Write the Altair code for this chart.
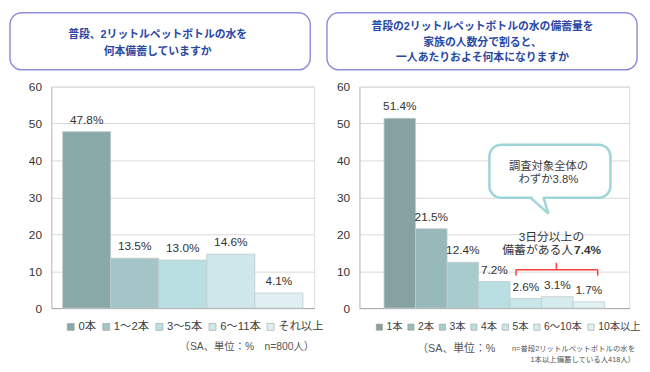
import altair as alt
import pandas as pd

FONT = "Liberation Sans, Noto Sans CJK JP, sans-serif"

# ---------------- data ----------------
y_ticks = [0, 10, 20, 30, 40, 50, 60]

left_title = ["普段、2リットルペットボトルの水を", "何本備蓄していますか"]
left_cats = ["0本", "1〜2本", "3〜5本", "6〜11本", "それ以上"]
left_vals = [47.8, 13.5, 13.0, 14.6, 4.1]
left_colors = ["#89A8A8", "#A3C5C7", "#B9DFE3", "#CFE7EA", "#E0F0F2"]
left_note = "（SA、単位：%　n=800人）"

right_title = ["普段の2リットルペットボトルの水の備蓄量を", "家族の人数分で割ると、", "一人あたりおよそ何本になりますか"]
right_cats = ["1本", "2本", "3本", "4本", "5本", "6〜10本", "10本以上"]
right_vals = [51.4, 21.5, 12.4, 7.2, 2.6, 3.1, 1.7]
right_colors = ["#86A1A1", "#97B9BA", "#A8CCCE", "#B9DFE3", "#C9E6E9", "#D5ECEE", "#E2F1F3"]
right_note_a = "（SA、単位：%"
right_note_b = ["n=普段2リットルペットボトルの水を", "1本以上備蓄している人418人）"]

bubble_text = ["調査対象全体の", "わずか3.8%"]
bracket_line1 = "3日分以上の"
bracket_line2 = "備蓄がある人"
bracket_value = "7.4%"

ONE = pd.DataFrame({"k": [0]})
H = 225


def bar_layers(cats, vals, colors, pad_outer, legend_x, legend_y, legend_fs, col_pad, sym_size):
    df = pd.DataFrame({"cat": cats, "val": vals})
    base = alt.Chart(df).transform_calculate(
        label="format(datum.val, '.1f') + '%'"
    ).encode(
        x=alt.X("cat:N", sort=cats,
                scale=alt.Scale(domain=cats, paddingInner=0, paddingOuter=pad_outer),
                axis=alt.Axis(title=None, labels=False, ticks=False, grid=False,
                              domainColor="#a6a6a6", domainWidth=1)),
        y=alt.Y("val:Q", scale=alt.Scale(domain=[0, 60]),
                axis=alt.Axis(title=None, values=y_ticks, ticks=False, labelPadding=10,
                              labelFontSize=12, labelColor="#333333", labelFont=FONT,
                              domainColor="#bfbfbf", gridColor="#d9d9d9")),
    )
    bars = base.mark_bar(stroke="#c3cbcb", strokeWidth=0.8).encode(
        color=alt.Color("cat:N", sort=cats,
                        scale=alt.Scale(domain=cats, range=colors),
                        legend=alt.Legend(orient="none", legendX=legend_x, legendY=legend_y,
                                          direction="horizontal", columns=len(cats),
                                          title=None, symbolType="square", symbolSize=sym_size,
                                          labelFontSize=legend_fs, labelFont=FONT,
                                          labelColor="#404040", labelOffset=2,
                                          columnPadding=col_pad, padding=0,
                                          symbolStrokeColor="#a0a0a0", symbolStrokeWidth=0.6))
    )
    labels = base.mark_text(baseline="middle", dy=-12, fontSize=12, font=FONT,
                            color="#333333").encode(text="label:N")
    return bars, labels


def title_box(lines, x1, x2, y1, y2, cx, cy, lh):
    box = alt.Chart(ONE).mark_rect(fill="white", stroke="#9090D8", strokeWidth=1.5,
                                   cornerRadius=12).encode(
        x=alt.value(x1), x2=alt.value(x2), y=alt.value(y1), y2=alt.value(y2))
    txt = alt.Chart(ONE).mark_text(text=lines, align="center", baseline="middle",
                                   fontSize=11, font=FONT, fontWeight="bold", color="#2A48A3",
                                   lineHeight=lh).encode(x=alt.value(cx), y=alt.value(cy))
    return box, txt


def note(text, x, y, fs, lh=12, align="right"):
    return alt.Chart(ONE).mark_text(text=text, align=align, baseline="middle", fontSize=fs,
                                    font=FONT, color="#555555", lineHeight=lh).encode(
        x=alt.value(x), y=alt.value(y))


# ---------------- left panel ----------------
lb, ll = bar_layers(left_cats, left_vals, left_colors, 0.235, 14, 238, 11.5, 4, 50)
lbox, ltxt = title_box(left_title, -42, 263, -75, -17, 108, -52, 17)
left = alt.layer(
    lbox, ltxt, lb, ll,
    note(left_note, 267, 265, 10.5),
).properties(width=267, height=H)

# ---------------- right panel ----------------
rb, rl = bar_layers(right_cats, right_vals, right_colors, 0.78, 15, 239, 10.5, 3, 40)
rbox, rtxt = title_box(right_title, -33, 282, -75, -17, 125, -60, 15.5)

TEAL = "#9FD4D8"
bubble = alt.Chart(ONE).mark_rect(fill="white", stroke=TEAL, strokeWidth=2.5,
                                  cornerRadius=12).encode(
    x=alt.value(132), x2=alt.value(255), y=alt.value(59), y2=alt.value(113))
tail_cover = alt.Chart(ONE).mark_rule(color="white", strokeWidth=4).encode(
    x=alt.value(176), x2=alt.value(186), y=alt.value(113), y2=alt.value(113))
tail_l = alt.Chart(ONE).mark_rule(color=TEAL, strokeWidth=2.5).encode(
    x=alt.value(174), x2=alt.value(192), y=alt.value(113), y2=alt.value(129))
tail_r = alt.Chart(ONE).mark_rule(color=TEAL, strokeWidth=2.5).encode(
    x=alt.value(187), x2=alt.value(192), y=alt.value(113), y2=alt.value(129))
bubble_txt = alt.Chart(ONE).mark_text(text=bubble_text, align="center", baseline="middle",
                                      fontSize=11.5, font=FONT, color="#404040",
                                      lineHeight=13).encode(x=alt.value(192), y=alt.value(82))

RED = "#FF3B3B"
br_h = alt.Chart(ONE).mark_rule(color=RED, strokeWidth=1.5).encode(
    x=alt.value(159), x2=alt.value(242), y=alt.value(186), y2=alt.value(186))
br_l = alt.Chart(ONE).mark_rule(color=RED, strokeWidth=1.5).encode(
    x=alt.value(159), x2=alt.value(159), y=alt.value(186), y2=alt.value(192))
br_r = alt.Chart(ONE).mark_rule(color=RED, strokeWidth=1.5).encode(
    x=alt.value(242), x2=alt.value(242), y=alt.value(186), y2=alt.value(192))
br_m = alt.Chart(ONE).mark_rule(color=RED, strokeWidth=1.5).encode(
    x=alt.value(200), x2=alt.value(200), y=alt.value(179), y2=alt.value(186))
br_t1 = alt.Chart(ONE).mark_text(text=bracket_line1, align="center", baseline="middle",
                                 fontSize=12, font=FONT, color="#333333").encode(
    x=alt.value(195), y=alt.value(153))
br_t2 = alt.Chart(ONE).mark_text(text=bracket_line2, align="right", baseline="middle",
                                 fontSize=12, font=FONT, color="#333333").encode(
    x=alt.value(217), y=alt.value(166))
br_t3 = alt.Chart(ONE).mark_text(text=bracket_value, align="left", baseline="middle",
                                 fontSize=12, font=FONT, fontWeight="bold",
                                 color="#333333").encode(x=alt.value(218), y=alt.value(166))

right = alt.layer(
    rbox, rtxt, rb, rl,
    bubble, tail_cover, tail_l, tail_r, bubble_txt,
    br_h, br_l, br_r, br_m, br_t1, br_t2, br_t3,
    note(right_note_a, 138, 267, 11),
    note(right_note_b, 280, 267, 7.5, lh=11),
).properties(width=274, height=H)

chart = alt.hconcat(left, right, spacing=46, bounds="flush").resolve_scale(
    x="independent", y="independent", color="independent"
).resolve_legend(color="independent").properties(
    padding={"left": 0, "top": 0, "right": 0, "bottom": 0}
).configure_view(stroke="transparent").configure(font=FONT)

chart.save("out.html", embed_options={"renderer": "svg", "actions": False})
